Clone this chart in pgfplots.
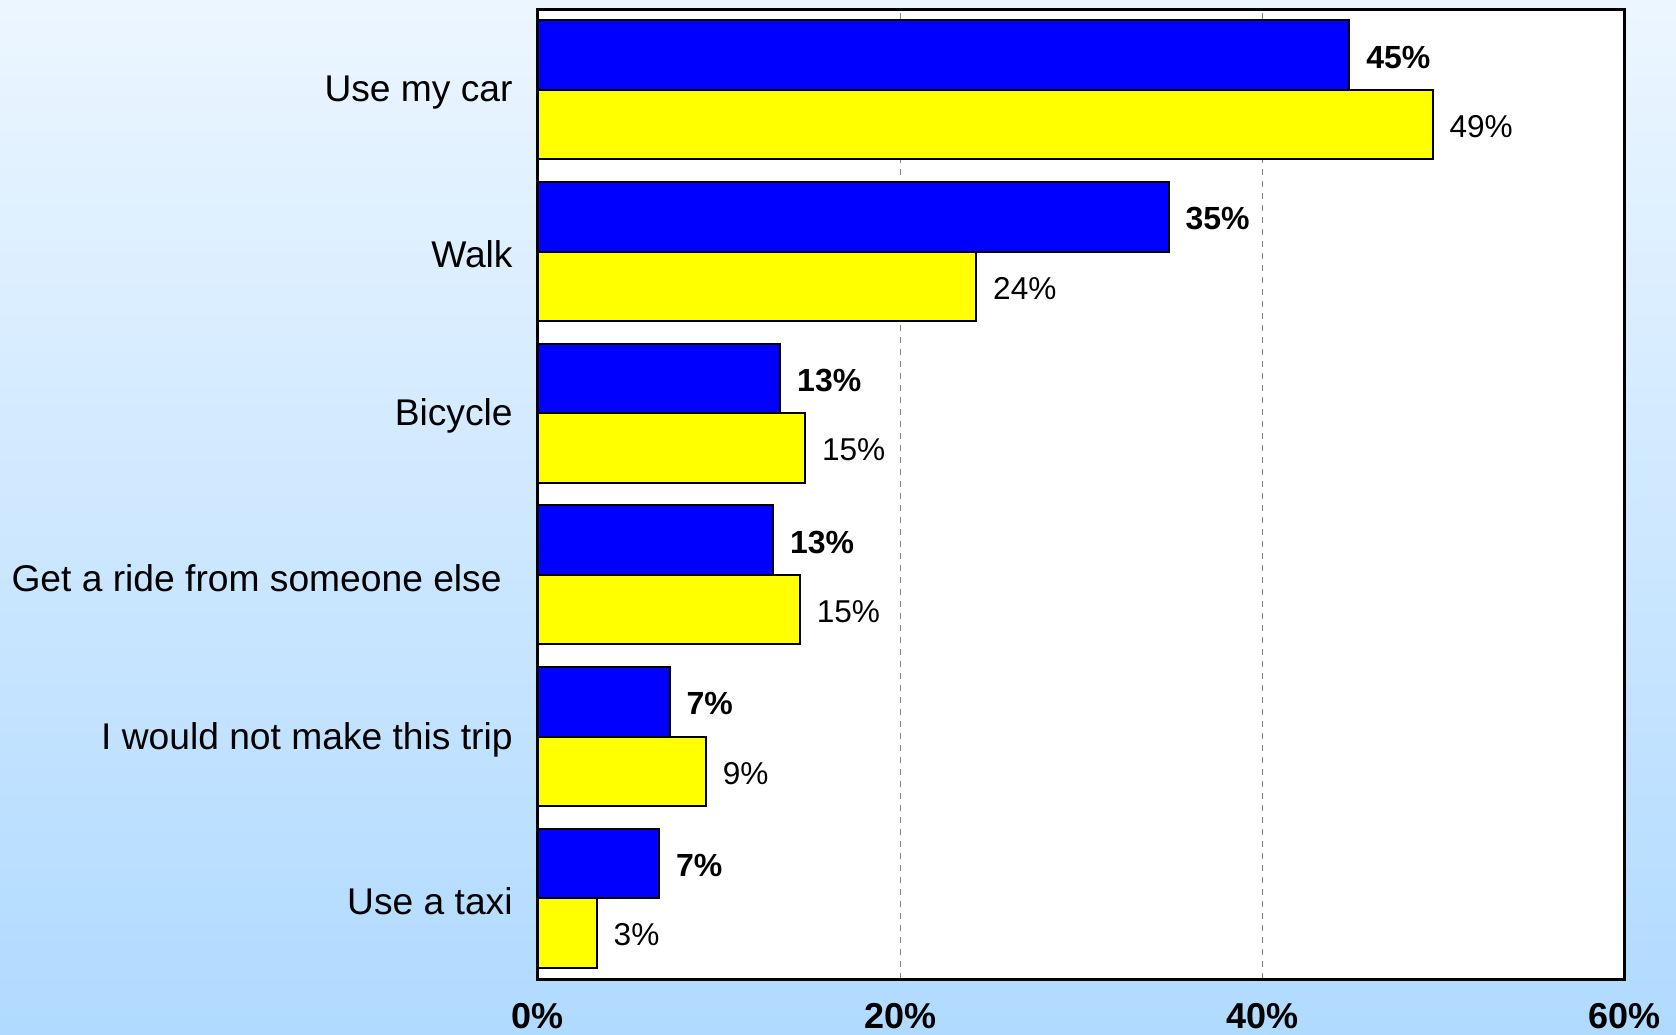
\documentclass[border=0pt]{standalone}
\usepackage{pgfplots}
\pgfplotsset{compat=1.18}
\usepackage{fontspec}
\setmainfont{Liberation Sans}
\definecolor{bgtop}{RGB}{236,246,255}
\definecolor{bgbot}{RGB}{176,218,255}
\definecolor{barblue}{RGB}{0,0,255}
\definecolor{baryellow}{RGB}{255,255,0}
\begin{document}
\begin{tikzpicture}
\shade[top color=bgtop, bottom color=bgbot] (-269pt,-27.5pt) rectangle (569pt,489.5pt);
\useasboundingbox (-269pt,-27.5pt) rectangle (569pt,489.5pt);
\begin{axis}[
  scale only axis,
  width=543.5pt, height=485pt,
  xmin=0, xmax=60, ymin=-0.5, ymax=5.5,
  axis background/.style={fill=white},
  axis line style={black, line width=1.5pt},
  xtick={0,20,40,60},
  xticklabels={0\%,20\%,40\%,60\%},
  xticklabel style={font=\bfseries\fontsize{18}{20}\selectfont, anchor=north, inner sep=0pt, yshift=-12pt},
  ytick={0,1,2,3,4,5},
  yticklabels={Use a taxi, I would not make this trip, Get a ride from someone else\hspace*{5.5pt}, Bicycle, Walk, Use my car},
  yticklabel style={font=\fontsize{18.6}{20}\selectfont, anchor=east, inner sep=0pt, xshift=-12.5pt, yshift=-1.5pt},
  major tick length=0pt,
  xmajorgrids,
  major grid style={dashed, gray, line width=0.6pt},
  xbar,
  bar width=0.43,
  point meta=explicit symbolic,
  nodes near coords={\pgfplotspointmeta\%},
  nodes near coords align=horizontal,
  clip=false,
]
\addplot[draw=black, line width=1pt, fill=barblue, bar shift=0.215,
  nodes near coords style={anchor=west, inner sep=0pt, xshift=8pt, yshift=-1pt, font=\bfseries\fontsize{16}{18}\selectfont}]
  coordinates {
  (44.78,5) [45]
  (34.81,4) [35]
  (13.37,3) [13]
  (12.98,2) [13]
  (7.26,1) [7]
  (6.68,0) [7]
  };
\addplot[draw=black, line width=1pt, fill=baryellow, bar shift=-0.215,
  nodes near coords style={anchor=west, inner sep=0pt, xshift=8pt, yshift=-1pt, font=\fontsize{15.8}{18}\selectfont}]
  coordinates {
  (49.38,5) [49]
  (24.19,4) [24]
  (14.74,3) [15]
  (14.45,2) [15]
  (9.26,1) [9]
  (3.24,0) [3]
  };
\end{axis}
\end{tikzpicture}
\end{document}
